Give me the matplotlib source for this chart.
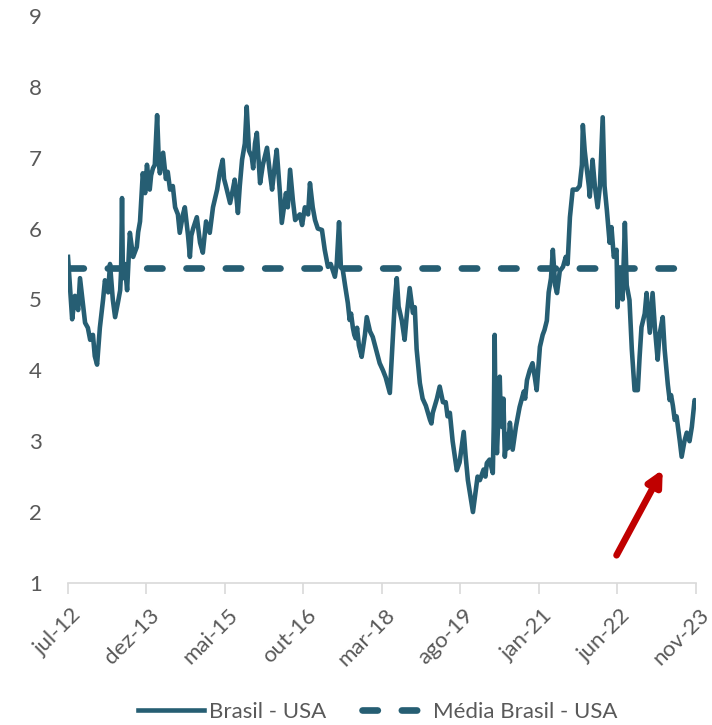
import matplotlib
matplotlib.use("Agg")
import matplotlib.pyplot as plt
from matplotlib.transforms import ScaledTranslation, blended_transform_factory

plt.rcParams["font.family"] = ["Lato", "DejaVu Sans"]

# ── data (months since jul-12, spread value) ─────────────────────────────────
months = [
    0.0, 0.4, 0.9, 1.5, 2.2, 2.6, 3.2, 3.7, 4.3, 4.8,
    5.4, 5.8, 6.3, 6.9, 7.6, 8.0, 8.7, 9.1, 9.7, 10.2,
    10.8, 11.3, 11.5, 11.7, 11.9, 12.3, 12.8, 13.4, 14.1, 14.9,
    15.2, 15.6, 16.2, 16.7, 17.1, 17.7, 18.0, 18.4, 18.8, 19.3,
    19.7, 19.9, 20.6, 21.2, 21.6, 22.1, 22.7, 23.2, 23.8, 24.2,
    24.9, 25.3, 26.0, 26.4, 26.7, 27.1, 27.9, 28.6, 29.2, 29.9,
    30.7, 31.4, 32.3, 32.9, 33.5, 33.8, 34.2, 35.1, 35.7, 36.1,
    36.8, 37.2, 37.7, 38.3, 38.7, 39.2, 39.8, 40.1, 40.5, 40.9,
    41.6, 42.2, 43.1, 43.7, 44.2, 44.8, 45.2, 45.9, 46.3, 47.2,
    47.6, 48.1, 48.7, 49.2, 50.2, 50.7, 51.3, 52.0, 52.4, 53.0,
    53.5, 54.1, 55.0, 55.6, 56.3, 56.9, 57.8, 58.2, 58.7, 59.1,
    59.5, 60.0, 60.6, 61.0, 61.3, 61.7, 62.0, 62.3, 62.6, 63.0,
    63.6, 64.3, 64.7, 65.4, 66.0, 66.7, 67.5, 68.2, 68.8, 69.7,
    70.3, 70.8, 71.2, 71.6, 72.3, 72.9, 73.4, 74.0, 74.7, 75.1,
    75.5, 76.2, 76.8, 77.5, 78.4, 78.7, 79.0, 79.9, 80.5, 81.2,
    81.8, 82.2, 82.7, 83.3, 84.2, 84.8, 85.7, 86.1, 86.6, 87.2,
    87.7, 88.3, 88.7, 89.2, 90.0, 90.4, 90.7, 91.3, 92.0, 92.2,
    92.4, 92.6, 92.9, 93.3, 93.5, 93.7, 94.0, 94.3, 94.6, 95.0,
    95.3, 95.7, 96.3, 97.0, 97.8, 98.7, 99.0, 99.4, 100.0, 100.6,
    101.1, 101.5, 102.2, 102.8, 103.2, 103.7, 104.1, 104.6, 105.0, 105.5,
    105.9, 106.5, 107.2, 107.8, 108.2, 108.7, 109.3, 110.2, 110.8, 111.3,
    111.5, 111.9, 112.3, 112.8, 113.0, 113.6, 114.1, 114.7, 115.2, 115.8,
    116.2, 116.7, 117.3, 117.7, 118.2, 118.8, 119.0, 119.5, 120.1, 120.6,
    121.0, 121.6, 122.1, 122.7, 123.4, 123.8, 124.2, 124.9, 125.3, 126.0,
    126.6, 127.1, 127.7, 128.1, 128.8, 129.2, 129.9, 130.3, 130.6, 131.0,
    131.4, 131.8, 132.5, 132.9, 133.5, 134.0, 134.6, 135.1, 135.7, 136.0,
]
spread = [
    5.6, 5.2, 4.72, 5.05, 4.85, 5.3, 4.95, 4.67, 4.6, 4.43,
    4.5, 4.2, 4.08, 4.6, 5.0, 5.27, 5.1, 5.5, 5.0, 4.75,
    4.95, 5.13, 5.4, 6.43, 5.3, 5.5, 5.13, 5.94, 5.6, 5.74,
    5.95, 6.1, 6.78, 6.5, 6.9, 6.55, 6.75, 6.85, 6.9, 7.6,
    6.9, 6.78, 7.07, 6.7, 6.8, 6.55, 6.6, 6.3, 6.2, 5.94,
    6.2, 6.3, 5.9, 5.6, 5.9, 6.0, 6.16, 5.8, 5.66, 6.1,
    5.94, 6.3, 6.55, 6.8, 6.97, 6.7, 6.6, 6.36, 6.55, 6.69,
    6.22, 6.6, 6.97, 7.2, 7.72, 7.1, 7.01, 6.85, 7.2, 7.35,
    6.64, 6.9, 7.14, 6.8, 6.55, 6.9, 7.11, 6.5, 6.08, 6.5,
    6.3, 6.83, 6.4, 6.12, 6.2, 6.05, 6.3, 6.2, 6.64, 6.3,
    6.12, 6.0, 5.98, 5.7, 5.46, 5.5, 5.32, 5.5, 6.09, 5.45,
    5.42, 5.2, 4.95, 4.71, 4.8, 4.6, 4.5, 4.45, 4.6, 4.35,
    4.19, 4.5, 4.75, 4.55, 4.47, 4.3, 4.1, 4.0, 3.9, 3.68,
    4.4, 5.0, 5.3, 4.9, 4.7, 4.43, 4.8, 5.16, 4.81, 4.89,
    4.3, 3.82, 3.6, 3.5, 3.3, 3.25, 3.4, 3.6, 3.77, 3.55,
    3.55, 3.35, 3.4, 3.0, 2.59, 2.7, 3.13, 2.8, 2.45, 2.2,
    2.0, 2.3, 2.5, 2.45, 2.6, 2.5, 2.69, 2.74, 2.55, 3.2,
    4.5, 3.3, 2.83, 3.5, 3.91, 3.4, 3.2, 3.6, 2.78, 3.1,
    2.9, 3.26, 2.88, 3.2, 3.48, 3.7, 3.6, 3.86, 4.0, 4.1,
    3.9, 3.72, 4.33, 4.5, 4.57, 4.7, 5.1, 5.3, 5.7, 5.2,
    5.09, 5.4, 5.46, 5.6, 5.5, 6.16, 6.55, 6.55, 6.6, 6.9,
    7.46, 7.1, 6.87, 6.6, 6.45, 6.97, 6.6, 6.3, 6.6, 7.57,
    6.6, 6.26, 5.8, 6.02, 5.6, 5.7, 4.89, 5.4, 5.0, 6.08,
    5.2, 4.99, 4.3, 3.72, 3.72, 4.2, 4.61, 4.8, 5.09, 4.53,
    5.09, 4.6, 4.15, 4.5, 4.75, 4.3, 3.8, 3.58, 3.65, 3.5,
    3.3, 3.35, 3.0, 2.78, 3.0, 3.12, 3.0, 3.2, 3.58, 3.55,
]
media = 5.45

tick_pos = [0, 17, 34, 51, 68, 85, 102, 119, 136]
tick_labels = ["jul-12", "dez-13", "mai-15", "out-16", "mar-18",
               "ago-19", "jan-21", "jun-22", "nov-23"]

COLOR = "#265E73"
GREY = "#595959"

fig = plt.figure(figsize=(7.12, 7.25), dpi=100)
ax = fig.add_axes([0.0955, 0.196, 0.882, 0.782])

ax.plot(months, spread, color=COLOR, lw=3.3, solid_joinstyle="round",
        label="Brasil - USA")
ax.plot([months[0], months[-1]], [media, media], color=COLOR, lw=4.8,
        dashes=(2.3, 3.6), dash_capstyle="round", label="Média Brasil - USA")

# red arrow
ax.annotate("", xy=(128.8, 2.6), xytext=(118.8, 1.39),
            arrowprops=dict(arrowstyle="-|>,head_width=0.45,head_length=0.9",
                            color="#C00000", lw=4.8, shrinkA=0, shrinkB=0))

ax.set_xlim(0, 136)
ax.set_ylim(1, 9)
ax.set_yticks(range(1, 10))
ax.set_xticks(tick_pos)
ax.set_xticklabels([])

# rotated date labels, nudged to sit like the original
trans = blended_transform_factory(ax.transData, ax.transAxes) + \
    ScaledTranslation(0.03, -0.22, fig.dpi_scale_trans)
for pos, lab in zip(tick_pos, tick_labels):
    ax.text(pos, 0, lab, transform=trans, rotation=45, ha="right", va="top",
            rotation_mode="anchor", fontsize=16, color=GREY)

for s in ["top", "right", "left"]:
    ax.spines[s].set_visible(False)
ax.spines["bottom"].set_color("#d9d9d9")
ax.spines["bottom"].set_linewidth(1.2)
ax.tick_params(axis="y", length=0, pad=19, labelsize=16, labelcolor=GREY)
ax.tick_params(axis="x", length=8, width=1.2, color="#d9d9d9")

leg = fig.legend(loc="center", bbox_to_anchor=(0.53, 0.018), ncol=2,
                 frameon=False, fontsize=16, handlelength=3.0,
                 columnspacing=1.6, handletextpad=0.2)
for t in leg.get_texts():
    t.set_color(GREY)

fig.savefig("out.png", dpi=100)
